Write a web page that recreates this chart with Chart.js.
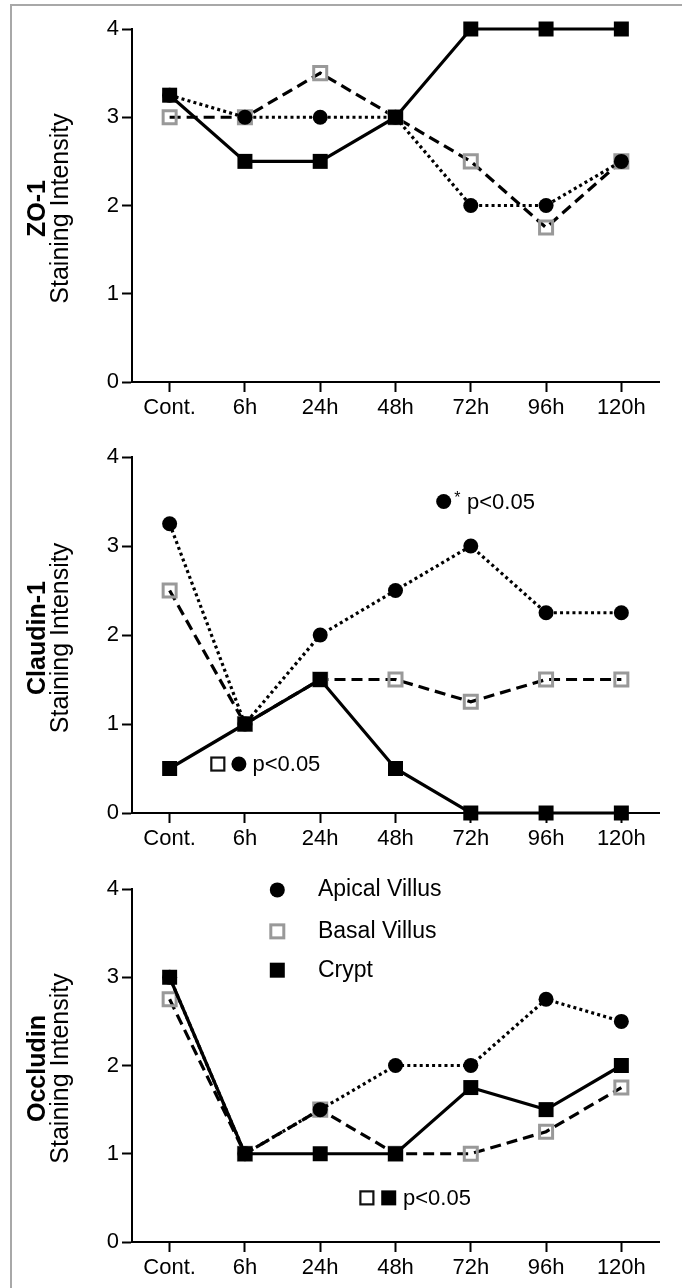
<!DOCTYPE html>
<html>
<head>
<meta charset="utf-8">
<script src="https://cdn.jsdelivr.net/npm/chart.js@4/dist/chart.umd.min.js"></script>
<style>
  html, body { margin: 0; padding: 0; background: #fff; }
  #wrap { position: relative; width: 682px; height: 1288px; overflow: hidden; background: #fff; }
  #frame { position: absolute; left: 10px; top: 4px; width: 700px; height: 1300px;
           border-left: 2px solid #a8a8a8; border-top: 2px solid #a8a8a8; }
  canvas { position: absolute; left: 0; }
</style>
</head>
<body>
<div id="wrap">
  <div id="frame"></div>
  <canvas id="c1" width="682" height="425" style="top:0px"></canvas>
  <canvas id="c2" width="682" height="430" style="top:425px"></canvas>
  <canvas id="c3" width="682" height="433" style="top:855px"></canvas>
</div>
<script>
// time points
const categories = ['Cont.', '6h', '24h', '48h', '72h', '96h', '120h'];
const yTicks = [0, 1, 2, 3, 4];
const seriesNames = ['Apical Villus', 'Basal Villus', 'Crypt'];

// ZO-1
const zo1Apical = [3.25, 3, 3, 3, 2, 2, 2.5];
const zo1Basal  = [3, 3, 3.5, 3, 2.5, 1.75, 2.5];
const zo1Crypt  = [3.25, 2.5, 2.5, 3, 4, 4, 4];

// Claudin-1
const cldApical = [3.25, 1, 2, 2.5, 3, 2.25, 2.25];
const cldBasal  = [2.5, 1, 1.5, 1.5, 1.25, 1.5, 1.5];
const cldCrypt  = [0.5, 1, 1.5, 0.5, 0, 0, 0];

// Occludin
const occApical = [3, 1, 1.5, 2, 2, 2.75, 2.5];
const occBasal  = [2.75, 1, 1.5, 1, 1, 1.25, 1.75];
const occCrypt  = [3, 1, 1, 1, 1.75, 1.5, 2];

const FONT = "'Liberation Sans', Arial, Helvetica, sans-serif";

function drawMark(ctx, kind, x, y) {
  ctx.save();
  if (kind === 'dot') {
    ctx.fillStyle = '#000';
    ctx.beginPath();
    ctx.arc(x, y, 7.5, 0, Math.PI * 2);
    ctx.fill();
  } else if (kind === 'open' || kind === 'openGray') {
    ctx.fillStyle = '#fff';
    ctx.strokeStyle = kind === 'open' ? '#111' : '#999';
    ctx.lineWidth = kind === 'open' ? 2.2 : 3;
    ctx.fillRect(x - 6.5, y - 6.5, 13, 13);
    ctx.strokeRect(x - 6.5, y - 6.5, 13, 13);
  } else if (kind === 'filled') {
    ctx.fillStyle = '#000';
    ctx.fillRect(x - 7.5, y - 7.5, 15, 15);
  }
  ctx.restore();
}

// draws the two-line y title, the p-value notes and the legend
function decorPlugin(title, notes) {
  return {
    id: 'decor',
    afterDraw(chart) {
      const { ctx, chartArea } = chart;
      const xs = chart.scales.x, ys = chart.scales.y;
      const midY = (chartArea.top + chartArea.bottom) / 2 + 3;
      ctx.save();
      ctx.fillStyle = '#000';
      ctx.textAlign = 'center';
      ctx.textBaseline = 'middle';
      ctx.translate(38, midY);
      ctx.rotate(-Math.PI / 2);
      ctx.font = 'bold 25px ' + FONT;
      ctx.fillText(title, 0, 0);
      ctx.font = '25px ' + FONT;
      ctx.fillText('Staining Intensity', 0, 23);
      ctx.restore();

      notes.forEach(n => {
        const px = xs.getPixelForValue(n.x);
        const py = ys.getPixelForValue(n.y);
        if (n.text) {
          ctx.save();
          ctx.fillStyle = '#000';
          ctx.textAlign = 'left';
          ctx.textBaseline = 'middle';
          ctx.font = (n.size || 22) + 'px ' + FONT;
          ctx.fillText(n.text, px, py + (n.dy || 0));
          ctx.restore();
        } else {
          drawMark(ctx, n.mark, px, py);
        }
      });
    }
  };
}

function makePanel(id, title, apical, basal, crypt, notes, padTop, xHeight) {
  const ctx = document.getElementById(id);
  return new Chart(ctx, {
    type: 'line',
    data: {
      labels: categories,
      datasets: [
        {
          label: seriesNames[2],
          data: crypt,
          borderColor: '#000',
          borderWidth: 3.2,
          pointStyle: 'rect',
          pointRadius: 10.6,
          pointBackgroundColor: '#000',
          pointBorderColor: '#000',
          pointBorderWidth: 0,
          tension: 0,
          clip: false
        },
        {
          label: seriesNames[0],
          data: apical,
          borderColor: '#000',
          borderWidth: 3.2,
          borderDash: [3, 3.2],
          pointStyle: 'circle',
          pointRadius: 7.5,
          pointBackgroundColor: '#000',
          pointBorderColor: '#000',
          pointBorderWidth: 0,
          tension: 0,
          clip: false
        },
        {
          label: seriesNames[1],
          data: basal,
          borderColor: '#000',
          borderWidth: 3.2,
          borderDash: [11, 6],
          pointStyle: 'rect',
          pointRadius: 9.2,
          pointBackgroundColor: 'rgba(255,255,255,0)',
          pointBorderColor: '#999',
          pointBorderWidth: 3,
          tension: 0,
          clip: false
        }
      ]
    },
    options: {
      responsive: false,
      animation: false,
      layout: { padding: { top: padTop, right: 23, bottom: 0, left: 0 } },
      plugins: {
        legend: { display: false },
        tooltip: { enabled: false }
      },
      scales: {
        x: {
          type: 'category',
          offset: true,
          grid: {
            offset: false,
            drawOnChartArea: false,
            drawTicks: true,
            tickLength: 10,
            tickColor: '#000',
            tickWidth: 2,
            color: '#000'
          },
          border: { display: true, color: '#000', width: 2 },
          ticks: {
            color: '#000',
            font: { family: FONT, size: 22 },
            padding: 3,
            maxRotation: 0,
            autoSkip: false
          },
          afterFit: s => { s.height = xHeight; }
        },
        y: {
          min: yTicks[0],
          max: yTicks[yTicks.length - 1],
          afterBuildTicks: s => { s.ticks = yTicks.map(v => ({ value: v })); },
          grid: {
            drawOnChartArea: false,
            drawTicks: true,
            tickLength: 10,
            tickColor: '#000',
            tickWidth: 2,
            color: '#000'
          },
          border: { display: true, color: '#000', width: 2 },
          ticks: {
            color: '#000',
            font: { family: FONT, size: 22 },
            padding: 3
          },
          afterFit: s => { s.width = 132; }
        }
      }
    },
    plugins: [decorPlugin(title, notes)]
  });
}

makePanel('c1', 'ZO-1', zo1Apical, zo1Basal, zo1Crypt, [], 29, 43);

makePanel('c2', 'Claudin-1', cldApical, cldBasal, cldCrypt, [
  { mark: 'dot', x: 3.64, y: 3.5 },
  { text: '*', x: 3.78, y: 3.5, dy: -3, size: 16 },
  { text: 'p<0.05', x: 3.95, y: 3.5, dy: 1 },
  { mark: 'open', x: 0.64, y: 0.55 },
  { mark: 'dot', x: 0.92, y: 0.55 },
  { text: 'p<0.05', x: 1.1, y: 0.55, dy: 1 }
], 32, 42);

makePanel('c3', 'Occludin', occApical, occBasal, occCrypt, [
  { mark: 'dot', x: 1.43, y: 3.99 },
  { text: seriesNames[0], x: 1.97, y: 3.99, size: 23 },
  { mark: 'openGray', x: 1.43, y: 3.52 },
  { text: seriesNames[1], x: 1.97, y: 3.52, size: 23 },
  { mark: 'filled', x: 1.43, y: 3.08 },
  { text: seriesNames[2], x: 1.97, y: 3.08, size: 23 },
  { mark: 'open', x: 2.62, y: 0.5 },
  { mark: 'filled', x: 2.91, y: 0.5 },
  { text: 'p<0.05', x: 3.1, y: 0.5, dy: 1 }
], 34, 46);
</script>
</body>
</html>
